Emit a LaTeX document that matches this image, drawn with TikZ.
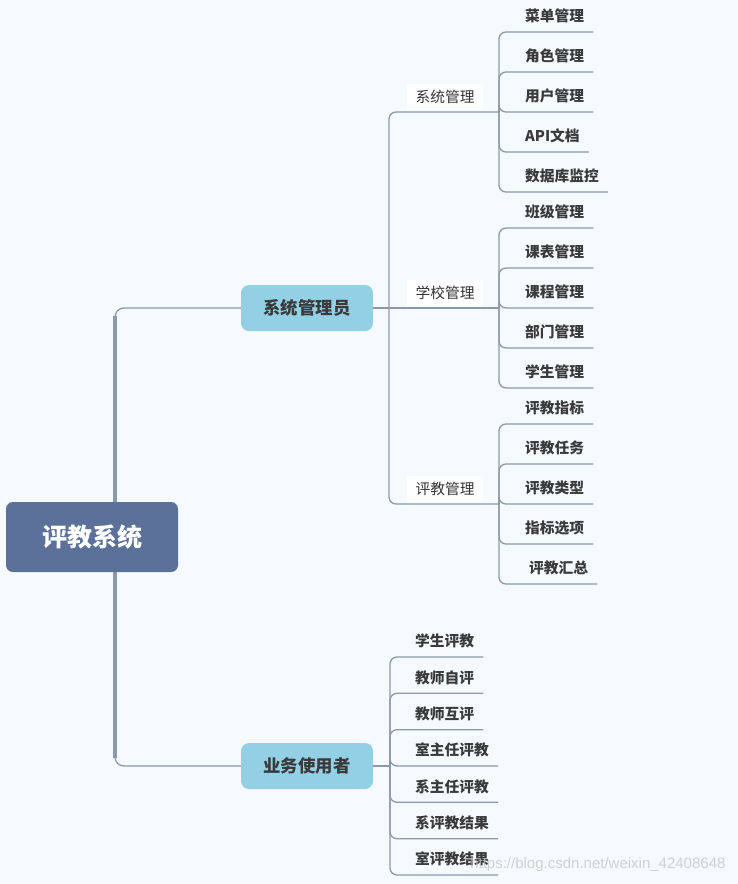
\documentclass[tikz,border=0pt]{standalone}
\usepackage{fontspec}
\newfontfamily\cjk{Noto Sans CJK SC}
\newfontfamily\wmfont{Liberation Sans}
\usetikzlibrary{calc}

\definecolor{bgcol}{HTML}{F5FAFE}
\definecolor{rootcol}{HTML}{5B7199}
\definecolor{boxcol}{HTML}{93D0E6}
\definecolor{linecol}{HTML}{8E98AC}
\definecolor{textcol}{HTML}{3A3A3A}

\begin{document}
\begin{tikzpicture}[
    x=1pt, y=-1pt,
    rootbox/.style={rectangle, fill=rootcol, rounded corners=7pt, minimum width=172pt, minimum height=70pt, text=white, font=\cjk\bfseries\fontsize{25}{30}\selectfont},
    mainbox/.style={rectangle, fill=boxcol, rounded corners=8pt, minimum width=132pt, minimum height=46pt, text=textcol, font=\cjk\bfseries\fontsize{17.4}{21}\selectfont},
    sublabel/.style={rectangle, fill=white, minimum width=76pt, minimum height=26pt, inner sep=0pt, text=textcol!90!black, font=\cjk\fontsize{14.75}{17}\selectfont},
    leaf/.style={anchor=south west, inner sep=0pt, text depth=10pt, text=textcol, font=\cjk\bfseries\fontsize{14.75}{17}\selectfont},
    link/.style={draw=linecol, line width=1.3pt, rounded corners=7pt},
    trunk/.style={draw=linecol, line width=3.2pt}
]
    \fill[bgcol] (0,0) rectangle (737,884);
    \useasboundingbox (0,0) rectangle (737,884);

    % main trunk
    \coordinate (trunk) at (115,537);
    \coordinate (ttop) at (115,316);
    \coordinate (tbot) at (115,758);
    \coordinate (jadmin) at (389,308);
    \coordinate (juser) at (390,766);
    \coordinate (jsys) at (499,112);
    \coordinate (jsch) at (499,308);
    \coordinate (jeva) at (499,504);

    \node [mainbox] (admin) at (307,308) {系统管理员};
    \node [mainbox] (user) at (307,766) {业务使用者};

    \draw [link, rounded corners=9pt] (admin.west) -| (trunk) |- (user.west);
    \draw [trunk] (ttop) -- (tbot);
    \node [rootbox] (root) at (92,537) {评教系统};

    % 系统管理员
    \draw [link] (admin.east) -- (jadmin);
    \draw [link] (jadmin) |- (jsys);
    \draw [link] (jadmin) -- (jsch);
    \draw [link] (jadmin) |- (jeva);
    \node [sublabel] (sysm) at (445,96.5) {系统管理};
    \node [sublabel] (schm) at (445,293) {学校管理};
    \node [sublabel] (evam) at (445,489) {评教管理};

    \node [leaf] (menu) at (525,32) {菜单管理};
    \node [leaf] (role) at (525,72) {角色管理};
    \node [leaf] (usr) at (525,112) {用户管理};
    \node [leaf] (api) at (525,152) {API文档};
    \node [leaf] (dbmon) at (525,192) {数据库监控};
    \draw [link] (jsys) |- ([xshift=9pt]menu.south east);
    \draw [link] (jsys) |- ([xshift=9pt]role.south east);
    \draw [link] (jsys) |- ([xshift=9pt]usr.south east);
    \draw [link] (jsys) |- ([xshift=9pt]api.south east);
    \draw [link] (jsys) |- ([xshift=9pt]dbmon.south east);

    \node [leaf] (cls) at (525,228) {班级管理};
    \node [leaf] (tab) at (525,268) {课表管理};
    \node [leaf] (crs) at (525,308) {课程管理};
    \node [leaf] (dept) at (525,348) {部门管理};
    \node [leaf] (stu) at (525,388) {学生管理};
    \draw [link] (jsch) |- ([xshift=9pt]cls.south east);
    \draw [link] (jsch) |- ([xshift=9pt]tab.south east);
    \draw [link] (jsch) |- ([xshift=9pt]crs.south east);
    \draw [link] (jsch) |- ([xshift=9pt]dept.south east);
    \draw [link] (jsch) |- ([xshift=9pt]stu.south east);

    \node [leaf] (ind) at (525,424) {评教指标};
    \node [leaf] (task) at (525,464) {评教任务};
    \node [leaf] (type) at (525,504) {评教类型};
    \node [leaf] (opt) at (525,544) {指标选项};
    \node [leaf] (sum) at (529,584) {评教汇总};
    \draw [link] (jeva) |- ([xshift=9pt]ind.south east);
    \draw [link] (jeva) |- ([xshift=9pt]task.south east);
    \draw [link] (jeva) |- ([xshift=9pt]type.south east);
    \draw [link] (jeva) |- ([xshift=9pt]opt.south east);
    \draw [link] (jeva) |- ([xshift=9pt]sum.south east);

    % 业务使用者
    \draw [link] (user.east) -- (juser);
    \node [leaf] (stuev) at (415,657) {学生评教};
    \node [leaf] (self) at (415,693.3) {教师自评};
    \node [leaf] (peer) at (415,729.7) {教师互评};
    \node [leaf] (room) at (415,766) {室主任评教};
    \node [leaf] (head) at (415,802.3) {系主任评教};
    \node [leaf] (dres) at (415,838.7) {系评教结果};
    \node [leaf] (rres) at (415,875) {室评教结果};
    \draw [link] (juser) |- ([xshift=9pt]stuev.south east);
    \draw [link] (juser) |- ([xshift=9pt]self.south east);
    \draw [link] (juser) |- ([xshift=9pt]peer.south east);
    \draw [link] (juser) |- ([xshift=9pt]room.south east);
    \draw [link] (juser) |- ([xshift=9pt]head.south east);
    \draw [link] (juser) |- ([xshift=9pt]dres.south east);
    \draw [link] (juser) |- ([xshift=9pt]rres.south east);

    \node [anchor=east, text=gray!45, opacity=0.8, font=\wmfont\fontsize{15}{18}\selectfont] (wm) at (729,865) {https://blog.csdn.net/weixin\_42408648};
\end{tikzpicture}
\end{document}
